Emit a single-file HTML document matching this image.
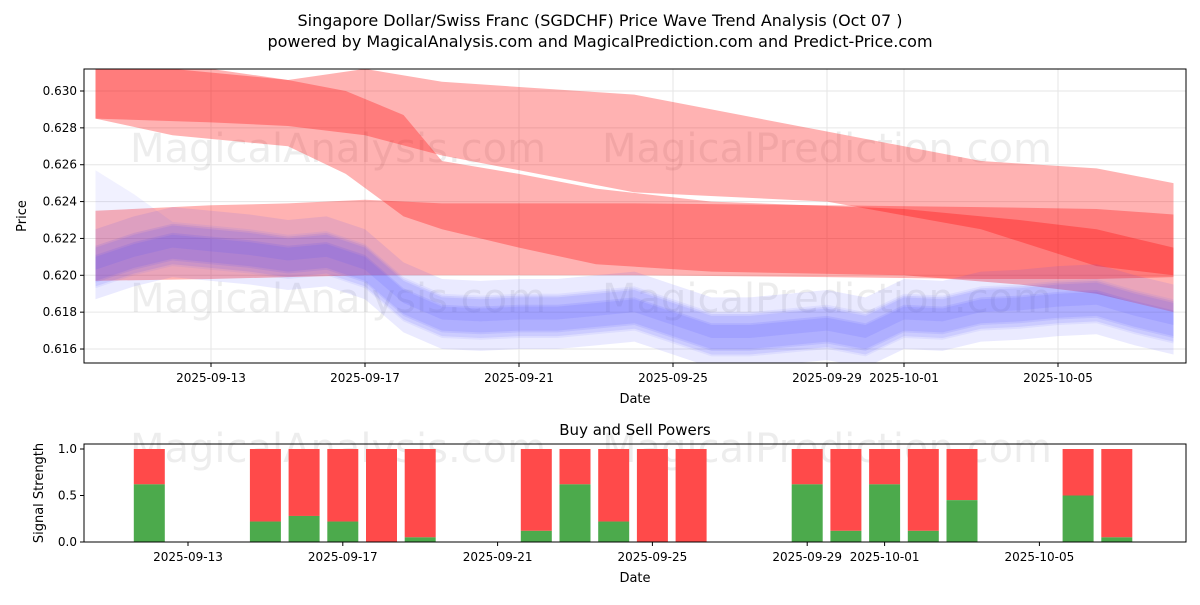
<!DOCTYPE html>
<html><head><meta charset="utf-8"><style>
body{margin:0;background:#fff;font-family:"Liberation Sans","DejaVu Sans",sans-serif}
svg text{font-family:"DejaVu Sans","Liberation Sans",sans-serif}
</style></head><body>
<svg id="c" width="1200" height="600" xmlns="http://www.w3.org/2000/svg">
<text x="600" y="26" text-anchor="middle" font-size="16">Singapore Dollar/Swiss Franc (SGDCHF) Price Wave Trend Analysis (Oct 07 )</text>
<text x="600" y="47" text-anchor="middle" font-size="16">powered by MagicalAnalysis.com and MagicalPrediction.com and Predict-Price.com</text>
<defs><clipPath id="cp1"><rect x="84" y="69" width="1102" height="294"/></clipPath></defs>
<g id="topG" clip-path="url(#cp1)"></g>
<g id="topAxes"></g>
<g id="botG"></g>
</svg>
<script>
// ---- data (day index 0 = 2025-09-10) ----
const priceTicks=[0.616,0.618,0.620,0.622,0.624,0.626,0.628,0.630];
const dateTicks=["2025-09-13","2025-09-17","2025-09-21","2025-09-25","2025-09-29","2025-10-01","2025-10-05"];
const dateTickDays=[3,7,11,15,19,21,25];
const redBandDays=[0,3,5,7,9,14,19,23,26,28];
const redTopUpper=[0.6315,0.6312,0.6306,0.6312,0.6305,0.6298,0.6278,0.6262,0.6258,0.625];
const redTopLower=[0.6285,0.6283,0.6281,0.6276,0.6265,0.6245,0.6240,0.6225,0.6205,0.620];
const redFlatUpper=[0.6235,0.6238,0.6239,0.6241,0.6239,0.6239,0.6238,0.6237,0.6236,0.6233];
const redFlatLower=[0.6197,0.6198,0.6199,0.6200,0.6200,0.6200,0.6199,0.6198,0.6198,0.6199];
const redMidDays=[0,2,5,6.5,8,9,11,13,16,21,24,26,28];
const redMidUpper=[0.6315,0.6312,0.6306,0.6300,0.6287,0.6262,0.6255,0.6247,0.6240,0.6236,0.6230,0.6225,0.6215];
const redMidLower=[0.6285,0.6276,0.6270,0.6255,0.6232,0.6225,0.6215,0.6206,0.6202,0.6200,0.6195,0.6190,0.6180];
const blueDays=[0,1,2,3,4,5,6,7,8,9,10,11,12,13,14,15,16,17,18,19,20,21,22,23,24,25,26,27,28];
const blueMid=[0.6205,0.6212,0.6217,0.6215,0.6213,0.6210,0.6212,0.6205,0.6187,0.6178,0.6177,0.6178,0.6178,0.6180,0.6182,0.6175,0.6168,0.6168,0.6170,0.6172,0.6168,0.6178,0.6177,0.6182,0.6183,0.6185,0.6186,0.6180,0.6175];
const blueOffsets=[0.0004,-0.0003,0.0001,-0.0006,0.0006];
const buyDays=[2,5,6,7,8,9,12,13,14,15,16,19,20,21,22,23,26,27];
const buyVals=[0.62,0.22,0.28,0.22,0,0.05,0.12,0.62,0.22,0,0,0.62,0.12,0.62,0.12,0.45,0.5,0.05];
const X=d=>211+(d-3)*38.5, Y=v=>91+(0.630-v)/0.002*36.86;
const NS="http://www.w3.org/2000/svg";
function mk(tag,attrs,parent){const e=document.createElementNS(NS,tag);for(const k in attrs)e.setAttribute(k,attrs[k]);parent.appendChild(e);return e;}
const topG=document.getElementById('topG'), ta=document.getElementById('topAxes'), botG=document.getElementById('botG');
priceTicks.forEach(v=>{const l=mk('line',{x1:84,x2:1186,y1:Y(v),y2:Y(v),stroke:'#e6e6e6'},topG);
});
dateTickDays.forEach(d=>{const l=mk('line',{x1:X(d),x2:X(d),y1:69,y2:363,stroke:'#e6e6e6'},topG);
});
function wm(y,g){[["MagicalAnalysis.com",130],["MagicalPrediction.com",602]].forEach(([s,x])=>{const e=mk('text',{x:x,y:y,'font-size':40,fill:'#000','fill-opacity':0.07},g);e.textContent=s;
});}
wm(162,topG);wm(312,topG);
function band(days,up,lo,fill,op,name){let p=days.map((d,i)=>X(d)+','+Y(up[i]));let q=days.map((d,i)=>X(d)+','+Y(lo[i])).reverse();
const e=mk('polygon',{points:p.concat(q).join(' '),fill:fill,'fill-opacity':op},topG);
}
band(redBandDays,redTopUpper,redTopLower,'#ff0000',0.3,'red-band-upper');
band(redBandDays,redFlatUpper,redFlatLower,'#ff0000',0.3,'red-band-flat');
band(redMidDays,redMidUpper,redMidLower,'#ff0000',0.3,'red-band-descending');
blueOffsets.forEach((o,k)=>{const w=0.0006+k*0.0002;
band(blueDays,blueMid.map(v=>v+o+w),blueMid.map(v=>v+o-w),'#4444ff',0.11,'blue-band');});
band(blueDays,blueMid.map((v,i)=>v+0.0012+(i<2?0.004-i*0.002:0)),blueMid.map((v,i)=>v-0.0012),'#6666ff',0.09,'blue-band-wide');
mk('rect',{x:84,y:69,width:1102,height:294,fill:'none',stroke:'#000'},ta);
priceTicks.forEach(v=>{mk('line',{x1:80,x2:84,y1:Y(v),y2:Y(v),stroke:'#000'},ta);
const e=mk('text',{x:77,y:Y(v)+4,'text-anchor':'end','font-size':12},ta);e.textContent=v.toFixed(3);
});
dateTickDays.forEach((d,i)=>{mk('line',{x1:X(d),x2:X(d),y1:363,y2:367,stroke:'#000'},ta);
const e=mk('text',{x:X(d),y:382,'text-anchor':'middle','font-size':12},ta);e.textContent=dateTicks[i];
});
let lbl=mk('text',{x:635,y:403,'text-anchor':'middle','font-size':13},ta);lbl.textContent='Date';

lbl=mk('text',{x:26,y:216,'text-anchor':'middle','font-size':13,transform:'rotate(-90 26 216)'},ta);lbl.textContent='Price';

const BX=d=>188+(d-3)*38.7, BY=v=>542-v*93;
wm(462,botG);
buyDays.forEach((d,i)=>{const x=BX(d)-15.5;
const r=mk('rect',{x:x,y:BY(1),width:31,height:BY(buyVals[i])-BY(1),fill:'#ff4a4a'},botG);

const g=mk('rect',{x:x,y:BY(buyVals[i]),width:31,height:542-BY(buyVals[i]),fill:'#4caa4c'},botG);
});
mk('rect',{x:84,y:444,width:1102,height:98,fill:'none',stroke:'#000'},botG);
[0,0.5,1].forEach(v=>{mk('line',{x1:80,x2:84,y1:BY(v),y2:BY(v),stroke:'#000'},botG);
const e=mk('text',{x:77,y:BY(v)+4,'text-anchor':'end','font-size':12},botG);e.textContent=v.toFixed(1);
});
dateTickDays.forEach((d,i)=>{mk('line',{x1:BX(d),x2:BX(d),y1:542,y2:546,stroke:'#000'},botG);
const e=mk('text',{x:BX(d),y:561,'text-anchor':'middle','font-size':12},botG);e.textContent=dateTicks[i];
});
lbl=mk('text',{x:635,y:435,'text-anchor':'middle','font-size':15},botG);lbl.textContent='Buy and Sell Powers';

lbl=mk('text',{x:635,y:582,'text-anchor':'middle','font-size':13},botG);lbl.textContent='Date';

lbl=mk('text',{x:43,y:493,'text-anchor':'middle','font-size':13,transform:'rotate(-90 43 493)'},botG);lbl.textContent='Signal Strength';

</script>
</body></html>
